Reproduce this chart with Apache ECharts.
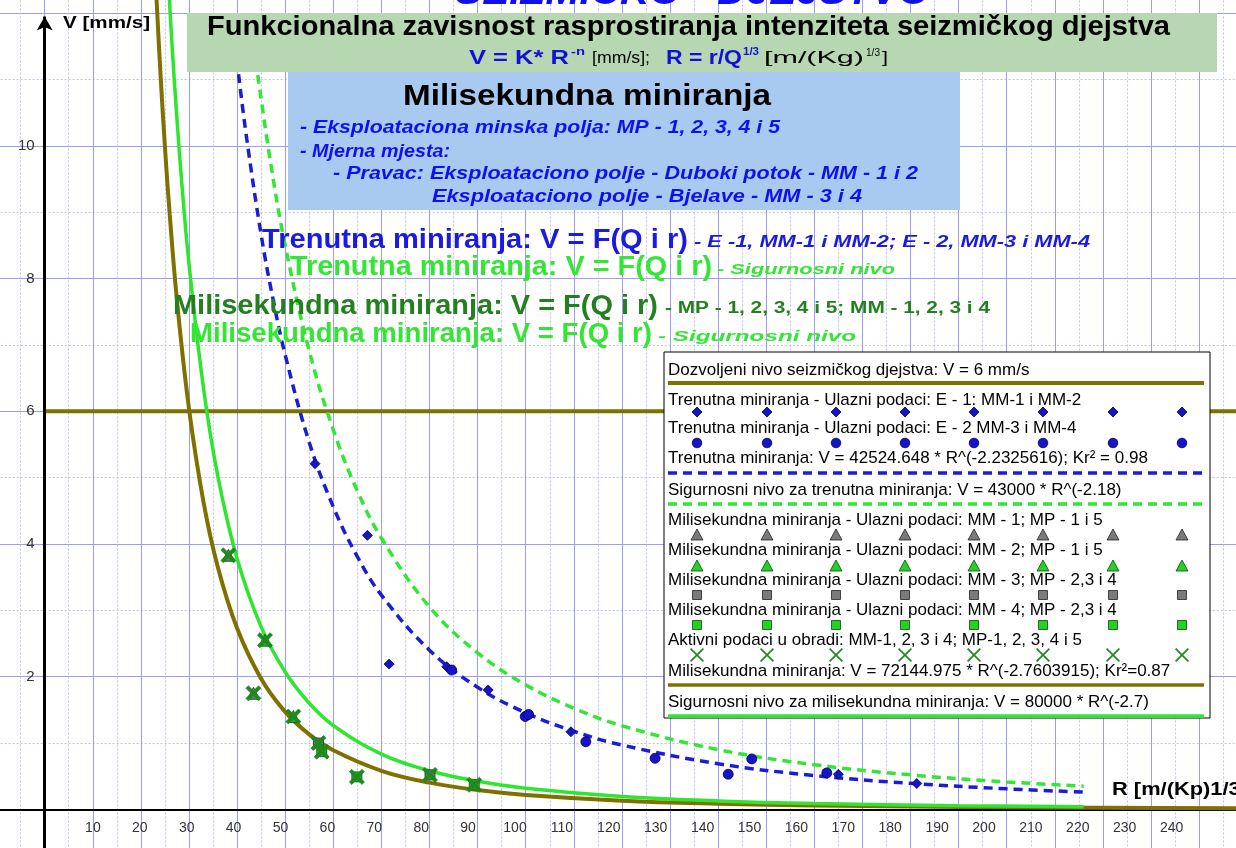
<!DOCTYPE html>
<html><head><meta charset="utf-8">
<script src="https://cdn.jsdelivr.net/npm/echarts@6/dist/echarts.min.js"></script>
<style>html,body{margin:0;padding:0;background:#fff}#c{width:1236px;height:848px}</style>
</head><body><div id="c"></div>
<script>
// ---------------- DATA ----------------
const xTickLabels = [10,20,30,40,50,60,70,80,90,100,110,120,130,140,150,160,170,180,190,200,210,220,230,240];
const yTickLabels = [2,4,6,8,10];
// allowed level V = 6 mm/s
const allowedLevel = [[0,6],[260,6]];
// Trenutna miniranja fit (blue dashed)
const trenFit = [[40.3,11.08],[42,10.11],[45,8.66],[47.5,7.68],[50,6.85],[55,5.53],[60,4.56],[65,3.81],[70,3.23],[80,2.40],[90,1.84],[100,1.457],[110,1.178],[120,0.970],[140,0.688],[160,0.510],[180,0.3925],[200,0.310],[216,0.261]];
// Sigurnosni nivo trenutna (green dashed)
const trenSafe = [[44.3,11.07],[47,9.73],[50,8.50],[55,6.91],[60,5.72],[65,4.80],[70,4.09],[80,3.05],[90,2.36],[100,1.877],[110,1.525],[120,1.261],[140,0.901],[160,0.674],[180,0.521],[200,0.414],[216,0.350]];
// Milisekundna fit (olive)
const miliFit = [[23.0,12.57],[24,11.18],[25,9.98],[26,8.96],[27.5,7.67],[30,6.04],[33,4.64],[36,3.65],[40,2.73],[45,1.97],[50,1.47],[55,1.13],[60,0.891],[70,0.582],[80,0.403],[90,0.291],[100,0.2175],[120,0.1315],[140,0.0859],[160,0.0594],[190,0.0370],[220,0.0247],[260,0.0155]];
// Sigurnosni nivo milisekundna (green solid)
const miliSafe = [[25.5,12.75],[26.5,11.49],[27.5,10.40],[28.5,9.44],[30,8.22],[33,6.36],[36,5.02],[40,3.78],[45,2.75],[50,2.07],[55,1.60],[60,1.265],[70,0.834],[80,0.582],[90,0.423],[100,0.3185],[120,0.1948],[140,0.1284],[160,0.0895],[190,0.0563],[216,0.040]];
// input data - trenutna
const trenE1 = [[56.2,5.21],[67.1,4.13],[71.6,2.19],[83.6,2.15],[92.2,1.80],[109.4,1.17],[165,0.53],[181.3,0.39]];
const trenE2 = [[84.6,2.10],[99.9,1.40],[100.6,1.43],[112.5,1.02],[126.9,0.77],[142.1,0.53],[147,0.76],[162.6,0.55]];
// input data - milisekundna
const miliMM1 = [[38.2,3.83],[43.4,1.75]];
const miliMM2 = [[45.8,2.55],[51.7,1.40]];
const miliMM3 = [[56.9,1.00],[80.1,0.52]];
const miliMM4 = [[57.6,0.87],[64.9,0.49],[89.3,0.37]];
const miliActive = [[38.2,3.83],[43.4,1.75],[45.8,2.55],[51.7,1.40],[56.9,1.00],[57.6,0.87],[64.9,0.49],[80.1,0.52],[89.3,0.37]];
// legend texts
const legendTexts = [
 'Dozvoljeni nivo seizmičkog djejstva: V = 6 mm/s',
 'Trenutna miniranja - Ulazni podaci: E - 1: MM-1 i MM-2',
 'Trenutna miniranja - Ulazni podaci: E - 2 MM-3 i MM-4',
 'Trenutna miniranja: V = 42524.648 * R^(-2.2325616); Kr² = 0.98',
 'Sigurnosni nivo za trenutna miniranja: V = 43000 * R^(-2.18)',
 'Milisekundna miniranja - Ulazni podaci: MM - 1; MP - 1 i 5',
 'Milisekundna miniranja - Ulazni podaci: MM - 2; MP - 1 i 5',
 'Milisekundna miniranja - Ulazni podaci: MM - 3; MP - 2,3 i 4',
 'Milisekundna miniranja - Ulazni podaci: MM - 4; MP - 2,3 i 4',
 'Aktivni podaci u obradi: MM-1, 2, 3 i 4; MP-1, 2, 3, 4 i 5',
 'Milisekundna miniranja: V = 72144.975 * R^(-2.7603915); Kr²=0.87',
 'Sigurnosni nivo za milisekundna miniranja: V = 80000 * R^(-2.7)'
];

// ---------------- STYLE ----------------
const FONT = "'Liberation Sans', Arial, sans-serif";
const OLIVE = '#807000';
const BLUE = '#1c1cd8';
const LGREEN = '#33e633';
const DGREEN = '#23801f';
const XGREEN = '#1e8a1e';
const XPATH = 'path://M0,1.6 L1.6,0 L5,3.4 L8.4,0 L10,1.6 L6.6,5 L10,8.4 L8.4,10 L5,6.6 L1.6,10 L0,8.4 L3.4,5 Z';

const mctx = document.createElement('canvas').getContext('2d');
function fitScale(text, font, w) { mctx.font = font; const m = mctx.measureText(text).width; return w ? w / m : 1; }
function txt(text, x, y, size, opts) {
  opts = opts || {};
  const font = (opts.style || 'normal') + ' ' + (opts.weight || 'normal') + ' ' + size + 'px ' + FONT;
  return {
    type: 'text', x: x, y: y, z: opts.z || 100, silent: true,
    scaleX: fitScale(text, font, opts.w),
    style: { text: text, font: font, fill: opts.color || '#000', align: 'left', verticalAlign: 'middle' }
  };
}

const chart = echarts.init(document.getElementById('c'), null, { renderer: 'canvas' });

const graphic = [];
// top big title (cut by the top edge)
graphic.push(txt('SEIZMIČKO - DJEJSTVO', 455, -7, 40, { weight: 'bold', style: 'italic', color: '#1010ee', w: 475 }));
// green box
graphic.push({ type: 'rect', z: 90, silent: true, shape: { x: 187, y: 13, width: 1030, height: 59 }, style: { fill: '#b7d6b2' } });
graphic.push(txt('Funkcionalna zavisnost rasprostiranja intenziteta seizmičkog djejstva', 207, 28, 27, { weight: 'bold', w: 963 }));
graphic.push(txt('V = K* R', 469, 58, 20, { weight: 'bold', color: '#1010dd', w: 100 }));
graphic.push(txt('-n', 571, 52, 11, { weight: 'bold', color: '#1010dd', w: 14 }));
graphic.push(txt('[mm/s];', 592, 59, 16, { w: 58 }));
graphic.push(txt('R = r/Q', 666, 58, 20, { weight: 'bold', color: '#1010dd', w: 76 }));
graphic.push(txt('1/3', 743, 52, 11, { weight: 'bold', color: '#1010dd', w: 16 }));
graphic.push(txt('[m/(Kg)', 764, 59, 16, { w: 100 }));
graphic.push(txt('1/3', 866, 53, 10, { w: 14 }));
graphic.push(txt(']', 882, 59, 16, { w: 6 }));
// blue box
graphic.push({ type: 'rect', z: 90, silent: true, shape: { x: 288, y: 72, width: 672, height: 138 }, style: { fill: '#a8c9f0' } });
graphic.push(txt('Milisekundna miniranja', 403, 97, 29, { weight: 'bold', w: 368 }));
graphic.push(txt('- Eksploataciona minska polja: MP - 1, 2, 3, 4 i 5', 300, 128, 18, { weight: 'bold', style: 'italic', color: '#1010ee', w: 480 }));
graphic.push(txt('- Mjerna mjesta:', 300, 152, 18, { weight: 'bold', style: 'italic', color: '#1010ee', w: 150 }));
graphic.push(txt('- Pravac: Eksploataciono polje - Duboki potok - MM - 1 i 2', 333, 174, 18, { weight: 'bold', style: 'italic', color: '#1010ee', w: 585 }));
graphic.push(txt('Eksploataciono polje - Bjelave - MM - 3 i 4', 432, 197, 18, { weight: 'bold', style: 'italic', color: '#1010ee', w: 430 }));
// annotations
graphic.push(txt('Trenutna miniranja: V = F(Q i r)', 262, 241, 27, { weight: 'bold', color: '#1a1ae0', w: 426 }));
graphic.push(txt('- E -1, MM-1 i MM-2; E - 2, MM-3 i MM-4', 694, 243, 16, { weight: 'bold', style: 'italic', color: '#1a1ae0', w: 396 }));
graphic.push(txt('Trenutna miniranja: V = F(Q i r)', 290, 268, 27, { weight: 'bold', color: LGREEN, w: 422 }));
graphic.push(txt('- Sigurnosni nivo', 717, 270, 15, { weight: 'bold', style: 'italic', color: LGREEN, w: 178 }));
graphic.push(txt('Milisekundna miniranja: V = F(Q i r)', 173, 307, 27, { weight: 'bold', color: DGREEN, w: 485 }));
graphic.push(txt('- MP - 1, 2, 3, 4 i 5; MM - 1, 2, 3 i 4', 665, 309, 16, { weight: 'bold', color: DGREEN, w: 325 }));
graphic.push(txt('Milisekundna miniranja: V = F(Q i r)', 190, 335, 27, { weight: 'bold', color: LGREEN, w: 462 }));
graphic.push(txt('- Sigurnosni nivo', 658, 337, 15, { weight: 'bold', style: 'italic', color: LGREEN, w: 198 }));
// axis names
graphic.push(txt('V [mm/s]', 63, 23, 17, { weight: 'bold', w: 87 }));
graphic.push(txt('R [m/(Kp)1/3]', 1112, 790, 18, { weight: 'bold', w: 136 }));

// legend box
graphic.push({ type: 'rect', z: 95, silent: true, shape: { x: 664, y: 352, width: 546, height: 366 }, style: { fill: '#fff', stroke: '#000', lineWidth: 1 } });
const legX = [697, 767, 836, 905, 974, 1043, 1113, 1182];
const rowTextY = [370, 400, 428, 458, 490, 520, 550, 580, 610, 640, 671, 702];
const rowMarkY = [383, 412, 443, 473, 504, 535, 566, 595, 625, 655, 685, 716];
legendTexts.forEach(function (t, i) { graphic.push(txt(t, 668, rowTextY[i], 17, { z: 101 })); });
function hline(y, color, width, dash) {
  return { type: 'line', z: 102, silent: true, shape: { x1: 668, y1: y, x2: 1204, y2: y }, style: { stroke: color, lineWidth: width, lineDash: dash || null } };
}
graphic.push(hline(rowMarkY[0], OLIVE, 4));
graphic.push(hline(rowMarkY[3], BLUE, 3.5, [9, 6]));
graphic.push(hline(rowMarkY[4], LGREEN, 3.5, [9, 6]));
graphic.push(hline(rowMarkY[10], OLIVE, 3.5));
graphic.push(hline(rowMarkY[11], LGREEN, 3.5));
legX.forEach(function (x) {
  let y = rowMarkY[1];
  graphic.push({ type: 'polygon', z: 103, silent: true, shape: { points: [[x, y - 5], [x + 5, y], [x, y + 5], [x - 5, y]] }, style: { fill: '#1515c8', stroke: '#000060', lineWidth: 0.8 } });
  y = rowMarkY[2];
  graphic.push({ type: 'circle', z: 103, silent: true, shape: { cx: x, cy: y, r: 4.8 }, style: { fill: '#1515c8', stroke: '#000060', lineWidth: 0.8 } });
  y = rowMarkY[5];
  graphic.push({ type: 'polygon', z: 103, silent: true, shape: { points: [[x, y - 6], [x + 6, y + 5], [x - 6, y + 5]] }, style: { fill: '#7a7a7a', stroke: '#222', lineWidth: 0.8 } });
  y = rowMarkY[6];
  graphic.push({ type: 'polygon', z: 103, silent: true, shape: { points: [[x, y - 6], [x + 6, y + 5], [x - 6, y + 5]] }, style: { fill: '#22d422', stroke: '#114411', lineWidth: 0.8 } });
  y = rowMarkY[7];
  graphic.push({ type: 'rect', z: 103, silent: true, shape: { x: x - 4.5, y: y - 4.5, width: 9, height: 9 }, style: { fill: '#7a7a7a', stroke: '#222', lineWidth: 0.8 } });
  y = rowMarkY[8];
  graphic.push({ type: 'rect', z: 103, silent: true, shape: { x: x - 4.5, y: y - 4.5, width: 9, height: 9 }, style: { fill: '#22d422', stroke: '#114411', lineWidth: 0.8 } });
  y = rowMarkY[9];
  graphic.push({ type: 'polygon', z: 103, silent: true, shape: { points: [[x-7,y-5.8],[x-5.8,y-7],[x,y-1.2],[x+5.8,y-7],[x+7,y-5.8],[x+1.2,y],[x+7,y+5.8],[x+5.8,y+7],[x,y+1.2],[x-5.8,y+7],[x-7,y+5.8],[x-1.2,y]] }, style: { fill: XGREEN } });
});

function curve(data, color, width, dash, z) {
  return { type: 'line', data: data, smooth: 0.4, symbol: 'none', silent: true, z: z || 3, clip: false,
    lineStyle: { color: color, width: width, type: dash || 'solid', cap: 'butt' } };
}
function pts(data, symbol, size, fill, stroke) {
  return { type: 'scatter', data: data, symbol: symbol, symbolSize: size, silent: true, z: 5,
    itemStyle: { color: fill, borderColor: stroke, borderWidth: 0.8, opacity: 1 } };
}
const gridLine = { color: '#9c9cf2', width: 1 };
const gridMinor = { color: '#bfbff2', width: 1, type: [2, 2] };

const option = {
  animation: false,
  backgroundColor: '#fff',
  grid: [
    // data grid: R=0 at x=44.7 (4.81 px/unit), V=0 at y=809.4 (66.35 px/unit)
    { left: -3.4, right: -59.3, top: -119.5, bottom: -94.1, containLabel: false, outerBoundsMode: 'none' },
    // tick-label grid for the R axis labels
    { left: -0.9, right: -29.4, top: 0, bottom: 38.6, containLabel: false, outerBoundsMode: 'none' }
  ],
  xAxis: [{
    type: 'value', gridIndex: 0, min: -10, max: 260, interval: 10,
    axisLine: { onZero: true, lineStyle: { color: '#000', width: 2 } },
    axisTick: { show: false },
    axisLabel: { show: false },
    splitLine: { show: true, lineStyle: gridLine },
    minorTick: { show: false, splitNumber: 2 },
    minorSplitLine: { show: true, lineStyle: gridMinor }
  }, {
    type: 'value', gridIndex: 1, min: -10, max: 260, interval: 10, position: 'bottom',
    axisLine: { show: false, onZero: false },
    axisTick: { show: false },
    splitLine: { show: false },
    axisLabel: { color: '#333', fontSize: 14, fontFamily: FONT, margin: 12,
      formatter: function (v) { return xTickLabels.indexOf(v) >= 0 ? String(v) : ''; } }
  }],
  yAxis: [{
    type: 'value', gridIndex: 0, min: -2, max: 14, interval: 2, position: 'left', offset: -48.1,
    axisLine: { show: false, onZero: false },
    axisTick: { show: false },
    axisLabel: { color: '#333', fontSize: 15, fontFamily: FONT, margin: 10,
      formatter: function (v) { return yTickLabels.indexOf(v) >= 0 ? String(v) : ''; } },
    splitLine: { show: true, lineStyle: gridLine },
    minorTick: { show: false, splitNumber: 2 },
    minorSplitLine: { show: true, lineStyle: gridMinor }
  }, {
    type: 'value', gridIndex: 1, min: 0, max: 1, show: false
  }],
  series: [
    Object.assign(curve(allowedLevel, OLIVE, 4, null, 2), {
      markLine: { silent: true, symbol: ['none', 'arrow'], symbolSize: [12, 14], animation: false,
        label: { show: false }, lineStyle: { color: '#000', width: 3, type: 'solid' },
        data: [[{ coord: [0, -2] }, { coord: [0, 11.95] }]] }
    }),
    curve(miliFit, OLIVE, 4),
    curve(miliSafe, '#2ee62e', 3.5),
    curve(trenFit, BLUE, 3.5, [9, 6], 4),
    curve(trenSafe, LGREEN, 3.5, [9, 6], 4),
    pts(trenE1, 'diamond', 10, '#1515c8', '#000060'),
    pts(trenE2, 'circle', 10, '#1515c8', '#000060'),
    pts(miliMM1, 'triangle', 12, '#7a7a7a', '#222'),
    pts(miliMM2, 'triangle', 12, '#22b422', '#114411'),
    pts(miliMM3, 'rect', 10, '#7a7a7a', '#222'),
    pts(miliMM4, 'rect', 10, '#22b422', '#114411'),
    Object.assign(pts(miliActive, XPATH, 15, XGREEN, XGREEN), { z: 6 })
  ],
  graphic: graphic
};
chart.setOption(option);
</script>
</body></html>
